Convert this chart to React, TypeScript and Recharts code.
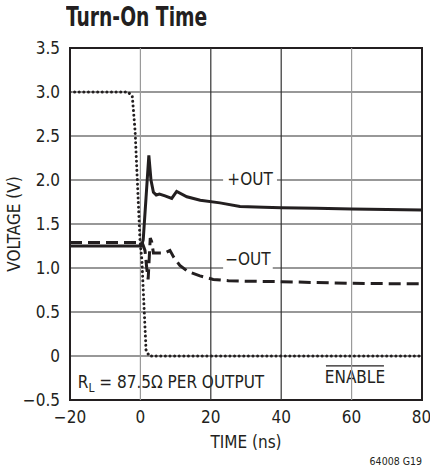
import { CartesianGrid, Label, Line, LineChart, ReferenceArea, ReferenceLine, XAxis, YAxis } from 'recharts';

/* Turn-On Time — datasheet style, black ink on white, condensed sans. */

const FONT = '"Liberation Sans Narrow", "DejaVu Sans Condensed", "Arial Narrow", "Roboto", sans-serif';
const INK = '#231f20';

// axes
const X_TICKS = [-20, 0, 20, 40, 60, 80];
const Y_TICKS = [-0.5, 0, 0.5, 1, 1.5, 2, 2.5, 3, 3.5];
const Y_LABELS = ['\u22120.5', '0', '0.5', '1.0', '1.5', '2.0', '2.5', '3.0', '3.5'];
const X_LABELS = ['\u221220', '0', '20', '40', '60', '80'];

// ENABLE (dotted)
const ENABLE_T = [-20, -3.5, -2.3, -1.5, -0.1, 0.4, 1.6, 2.5, 80];
const ENABLE_V = [3.0, 3.0, 2.95, 2.55, 1.3, 1.1, 0.07, 0, 0];

// +OUT (solid)
const POS_T = [-20, 0.3, 0.8, 1.6, 2.4, 3.0, 3.7, 4.5, 5.4, 7, 8.9, 10.3, 13.2, 17, 22.6, 28.3, 35, 40, 50, 60, 70, 80];
const POS_V = [1.25, 1.25, 1.32, 1.8, 2.28, 2.0, 1.86, 1.83, 1.84, 1.82, 1.79, 1.87, 1.81, 1.77, 1.74, 1.7, 1.69, 1.685, 1.68, 1.67, 1.665, 1.66];

// −OUT (dashed)
const NEG_T = [-20, 0.5, 1.3, 1.8, 2.2, 2.8, 3.2, 3.7, 5, 7, 8.4, 9.5, 11.2, 13.5, 16.9, 20.7, 25, 30, 40, 50, 60, 70, 80];
const NEG_V = [1.29, 1.29, 1.2, 1.0, 0.87, 1.34, 1.3, 1.17, 1.17, 1.17, 1.2, 1.12, 1.03, 0.96, 0.91, 0.87, 0.855, 0.85, 0.845, 0.835, 0.826, 0.822, 0.82];

const pts = (t: number[], v: number[]) => t.map((x, i) => ({ t: x, v: v[i] }));
const enable = pts(ENABLE_T, ENABLE_V);
const posOut = pts(POS_T, POS_V);
const negOut = pts(NEG_T, NEG_V);

const TICK = { fill: INK, fontSize: 17, fontFamily: FONT };

const fmtX = (v: number) => X_LABELS[X_TICKS.indexOf(v)] ?? String(v);
const fmtY = (v: number) => Y_LABELS[Y_TICKS.indexOf(v)] ?? String(v);

// white knock-out box with a text label in the middle
function BoxLabel({ viewBox, text }: { viewBox?: any; text: string }) {
  if (!viewBox) return null;
  const cx = viewBox.x + viewBox.width / 2;
  const cy = viewBox.y + viewBox.height / 2;
  return (
    <text x={cx} y={cy} dy="0.36em" textAnchor="middle" fontSize={17} fontFamily={FONT} fill={INK}>
      {text}
    </text>
  );
}

function RlLabel({ viewBox }: { viewBox?: any }) {
  if (!viewBox) return null;
  const cy = viewBox.y + viewBox.height / 2;
  return (
    <text x={viewBox.x + 6} y={cy} dy="0.36em" fontSize={17} fontFamily={FONT} fill={INK}>
      R<tspan fontSize={12} dy={4}>L</tspan>
      <tspan dy={-4}> = 87.5Ω PER OUTPUT</tspan>
    </text>
  );
}

// ENABLE is active-low: overbar drawn as a rule above the word
function EnableLabel({ viewBox }: { viewBox?: any }) {
  if (!viewBox) return null;
  const cx = viewBox.x + viewBox.width / 2;
  const cy = viewBox.y + viewBox.height / 2;
  return (
    <g>
      <line x1={cx - 29} x2={cx + 29} y1={cy - 11} y2={cy - 11} stroke={INK} strokeWidth={1.2} />
      <text x={cx} y={cy} dy="0.36em" textAnchor="middle" fontSize={17} fontFamily={FONT} fill={INK}>
        ENABLE
      </text>
    </g>
  );
}

export default function App() {
  return (
    <div style={{ position: 'absolute', left: 0, top: 0, width: 430, height: 468, background: '#fff', fontFamily: FONT }}>
      <div
        style={{
          position: 'absolute',
          left: 66,
          top: 0,
          fontSize: 26,
          fontWeight: 'bold',
          color: INK,
          lineHeight: '34px',
          whiteSpace: 'nowrap',
          transform: 'scaleX(0.8)',
          transformOrigin: 'left center',
        }}
      >
        Turn-On Time
      </div>
      <div
        style={{
          position: 'absolute',
          right: 8,
          top: 454,
          fontSize: 10.5,
          color: INK,
          whiteSpace: 'nowrap',
          lineHeight: '14px',
        }}
      >
        64008 G19
      </div>
      <LineChart width={430} height={468} data={posOut} margin={{ top: 48, right: 8, bottom: 38, left: 10 }}>
        <CartesianGrid vertical={false} horizontal stroke="#333" strokeWidth={1.2} />
        <XAxis
          type="number"
          dataKey="t"
          domain={[-20, 80]}
          ticks={X_TICKS}
          tickFormatter={fmtX}
          tick={TICK}
          tickSize={0}
          tickMargin={11}
          axisLine={false}
          height={30}
          allowDataOverflow
        >
          <Label value="TIME (ns)" position="bottom" offset={6} style={{ fill: INK, fontSize: 17, fontFamily: FONT }} />
        </XAxis>
        <YAxis
          type="number"
          dataKey="v"
          domain={[-0.5, 3.5]}
          ticks={Y_TICKS}
          tickFormatter={fmtY}
          tick={TICK}
          tickSize={0}
          tickMargin={10}
          axisLine={false}
          width={60}
          allowDataOverflow
        >
          <Label value="VOLTAGE (V)" angle={-90} position="center" dx={-26} style={{ fill: INK, fontSize: 17, fontFamily: FONT, textAnchor: 'middle' }} />
        </YAxis>
        <ReferenceLine x={0} stroke="#9a9a9a" strokeWidth={1.2} />
        <ReferenceLine x={20} stroke="#333" strokeWidth={1.2} />
        <ReferenceLine x={40} stroke="#333" strokeWidth={1.2} />
        <ReferenceLine x={60} stroke="#9a9a9a" strokeWidth={1.2} />
        <ReferenceArea x1={23.5} x2={38.8} y1={1.9} y2={2.12} fill="#fff" fillOpacity={1} stroke="none"
          label={<BoxLabel text="+OUT" />} />
        <ReferenceArea x1={23.5} x2={37.6} y1={0.97} y2={1.23} fill="#fff" fillOpacity={1} stroke="none"
          label={<BoxLabel text={'\u2212OUT'} />} />
        <ReferenceArea x1={-19.5} x2={37} y1={-0.47} y2={-0.11} fill="#fff" fillOpacity={1} stroke="none"
          label={<RlLabel />} />
        <ReferenceArea x1={51.6} x2={70.3} y1={-0.375} y2={-0.1} fill="#fff" fillOpacity={1} stroke="none"
          label={<EnableLabel />} />
        <ReferenceArea x1={-20} x2={80} y1={-0.5} y2={3.5} fill="none" stroke={INK} strokeWidth={2} />
        <Line data={enable} dataKey="v" type="linear" stroke={INK} strokeWidth={3} strokeLinecap="round"
          strokeDasharray="0.01 4.6" dot={false} isAnimationActive={false} />
        <Line data={negOut} dataKey="v" type="linear" stroke={INK} strokeWidth={3} strokeDasharray="12 6"
          dot={false} isAnimationActive={false} />
        <Line data={posOut} dataKey="v" type="linear" stroke={INK} strokeWidth={3} dot={false} isAnimationActive={false} />
      </LineChart>
    </div>
  );
}
